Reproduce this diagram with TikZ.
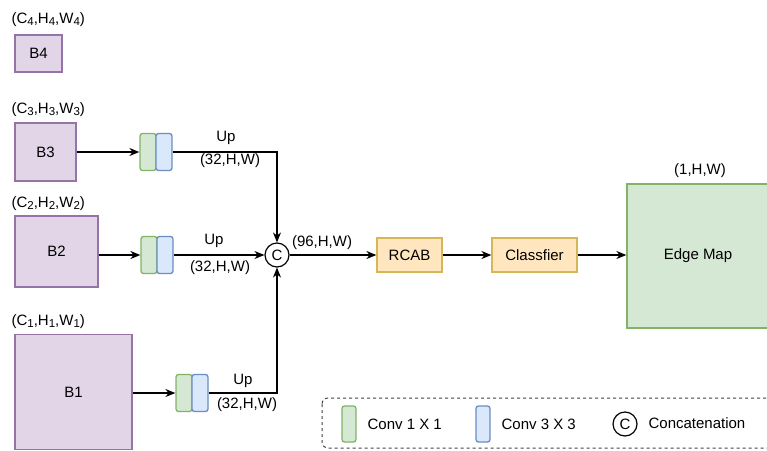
\documentclass[tikz,border=0pt]{standalone}
\usepackage{fontspec}
\setmainfont{Liberation Sans}
\usetikzlibrary{arrows.meta}
\definecolor{purpfill}{HTML}{E1D5E7}
\definecolor{purpdraw}{HTML}{9673A6}
\definecolor{greenfill}{HTML}{D5E8D4}
\definecolor{greendraw}{HTML}{82B366}
\definecolor{bluefill}{HTML}{DAE8FC}
\definecolor{bluedraw}{HTML}{6C8EBF}
\definecolor{yelfill}{HTML}{FFE6BF}
\definecolor{yeldraw}{HTML}{D6B656}
\newcommand{\sbs}[1]{\raisebox{-0.3ex}{\fontsize{11.5}{12}\selectfont #1}}
\begin{document}
\begin{tikzpicture}[x=1pt,y=-1pt,>={Stealth[length=10pt,width=8pt]},line width=1.2pt]
\tikzstyle{every node}+=[inner sep=0pt,font=\fontsize{15}{17}\selectfont]
\tikzstyle{featbox}=[draw=purpdraw,fill=purpfill,line width=1.3pt]
\tikzstyle{convone}=[draw=greendraw,fill=greenfill,rounded corners=2.5pt,minimum width=16pt,minimum height=37pt,line width=1.3pt]
\tikzstyle{convthree}=[draw=bluedraw,fill=bluefill,rounded corners=2.5pt,minimum width=16pt,minimum height=37pt,line width=1.3pt]
\tikzstyle{block}=[draw=yeldraw,fill=yelfill,minimum height=34pt,line width=1.3pt]
\tikzstyle{catnode}=[draw=black,circle,minimum size=24pt,line width=1.2pt]
\useasboundingbox (0,0) rectangle (767,450);
\node[featbox,minimum width=47pt,minimum height=37pt] (b4) at (38.5,53.5) {B4};
\node[featbox,minimum width=61pt,minimum height=58pt] (b3) at (45.5,152) {B3};
\node[featbox,minimum width=83pt,minimum height=71pt] (b2) at (56.5,251.5) {B2};
\node[featbox,minimum width=117pt,minimum height=115pt] (b1) at (73.5,392) {B1};
\node[anchor=base west] (s4) at (11,23) {(C\sbs{4},H\sbs{4},W\sbs{4})};
\node[anchor=base west] (s3) at (11,113) {(C\sbs{3},H\sbs{3},W\sbs{3})};
\node[anchor=base west] (s2) at (11,207) {(C\sbs{2},H\sbs{2},W\sbs{2})};
\node[anchor=base west] (s1) at (11,325) {(C\sbs{1},H\sbs{1},W\sbs{1})};
\node[convone] (g3) at (148,152) {};
\node[convthree] (u3) at (164,152) {};
\node[convone] (g2) at (149,255) {};
\node[convthree] (u2) at (165,255) {};
\node[convone] (g1) at (184,393) {};
\node[convthree] (u1) at (200,393) {};
\node[catnode] (cat) at (277,255) {C};
\node[block,minimum width=65pt] (rcab) at (409.5,255) {RCAB};
\node[block,minimum width=85pt] (cls) at (534.5,255) {Classfier};
\node[draw=greendraw,fill=greenfill,line width=1.3pt,minimum width=142pt,minimum height=144pt] (edge) at (698,256) {Edge Map};
\draw[->] (b3.east |- g3) -- (g3);
\draw[->] (b2.east |- g2) -- (g2);
\draw[->] (b1.east |- g1) -- (g1);
\draw[->] (u3.east) -| (cat.north);
\draw[->] (u2.east) -- (cat.west);
\draw[->] (u1.east) -| (cat.south);
\draw[->] (cat.east) -- (rcab.west);
\draw[->] (rcab.east) -- (cls.west);
\draw[->] (cls.east) -- (edge.west |- cls.east);
\node (up3) at (226,138) {Up};
\node (d3) at (230,161) {(32,H,W)};
\node (up2) at (214,241) {Up};
\node (d2) at (220,268) {(32,H,W)};
\node (up1) at (243,381) {Up};
\node (d1) at (247,405) {(32,H,W)};
\node (d96) at (322,243) {(96,H,W)};
\node (d1hw) at (700,171) {(1,H,W)};
\draw[dashed,rounded corners=6pt,line width=1pt,draw=black!75] (322,398) rectangle (780,448);
\node[convone,minimum width=14pt,minimum height=36pt] (lg) at (349,424) {};
\node[anchor=west] (lgt) at (367,424) {Conv 1 X 1};
\node[convthree,minimum width=14pt,minimum height=36pt] (lb) at (483,424) {};
\node[anchor=west] (lbt) at (501,424) {Conv 3 X 3};
\node[catnode] (lc) at (625,424) {C};
\node[anchor=west] (lct) at (648,423) {Concatenation};
\end{tikzpicture}
\end{document}
